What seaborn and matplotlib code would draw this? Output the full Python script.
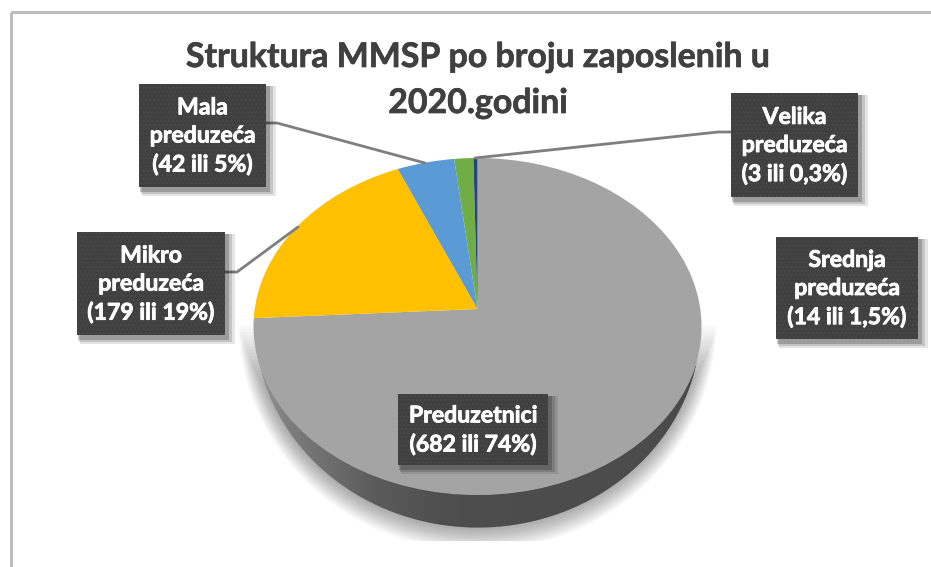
import numpy as np
import matplotlib
matplotlib.use("Agg")
import matplotlib.pyplot as plt
import matplotlib.patheffects as pe
from matplotlib.patches import Rectangle
from matplotlib.transforms import Transform
import seaborn as sns

categories = ["Preduzetnici", "Mikro preduzeća", "Mala preduzeća", "Srednja preduzeća", "Velika preduzeća"]
values = [682, 179, 42, 14, 3]
colors = ["#A4A4A4", "#FFC000", "#5B9BD5", "#70AD47", "#264478"]
title_lines = ["Struktura MMSP po broju zaposlenih u", "2020.godini"]
box_labels = ["Preduzetnici\n(682 ili 74%)", "Mikro\npreduzeća\n(179 ili 19%)", "Mala\npreduzeća\n(42 ili 5%)",
              "Srednja\npreduzeća\n(14 ili 1,5%)", "Velika\npreduzeća\n(3 ili 0,3%)"]
box_extents = [(398, 394, 548, 465), (77, 232, 225, 335), (139, 84, 266, 187), (776, 237, 918, 339), (731, 93, 858, 197)]
leaders = [None, [(225, 272), (237, 272), (298, 227)], [(266, 123), (277, 123), (425, 163)], None,
           [(731, 132), (718, 132), (475, 158)]]

sns.set_theme(style="white")
plt.rcParams["font.family"] = ["Lato", "DejaVu Sans"]

W, H = 931, 567
fig = plt.figure(figsize=(W / 100, H / 100), dpi=100, facecolor="white")
ax = fig.add_axes([0, 0, 1, 1])


class Perspective(Transform):
    """Unit-circle pie to screen pixels, tilted with the near edge enlarged."""
    input_dims = output_dims = 2
    is_separable = False
    has_inverse = False
    cx, cy, ax_x, ax_y, k = 477.5, 309.0, 222.8, 166.7, 0.104

    def transform_non_affine(self, v):
        v = np.asarray(v, float)
        w = 1 + self.k * v[:, 1]
        return np.column_stack((self.cx + self.ax_x * v[:, 0] / w, self.cy - self.ax_y * v[:, 1] / w))


palette = sns.color_palette(colors)
wedges, _ = ax.pie(values, colors=palette, startangle=90, counterclock=False, radius=1,
                   wedgeprops=dict(linewidth=0, zorder=4))
persp = Perspective() + ax.transData
for w in wedges:
    w.set_transform(persp)

ax.set_aspect("auto")
ax.set_xlim(0, W)
ax.set_ylim(H, 0)
ax.axis("off")

# outer chart frame: only the left and top edges show
ax.add_patch(Rectangle((10.5, 12), 1000, 1000, fill=False, ec="#BDBDBD", lw=2.2, zorder=1))

# soft shadow under the pie: stacked translucent ellipses, cut flat at the bottom
th = np.linspace(0, 2 * np.pi, 200)
n_layers = 18
for i in range(n_layers):
    f = 1 - i / n_layers
    sx = 477.5 + (223 + 16 * f) * np.cos(th)
    sy = 322 + (205 + 24 * f) * np.sin(th)
    ax.fill(sx, np.clip(sy, 325 + 3.5 * i, 541), color="#000000", alpha=0.02, lw=0, zorder=2)

# pie side wall: narrow vertical strips shaded from left to right
edges = np.arange(254.0, 702.0, 1.0)
shade = np.interp(edges, [254, 290, 370, 440, 702], [0.58, 0.47, 0.33, 0.27, 0.25])
for x0, g in zip(edges, shade):
    xs = np.array([x0, x0 + 1.3])
    lower = 322 + 205 * np.sqrt(np.clip(1 - ((xs - 477.5) / 223) ** 2, 0, 1))
    upper = 326.5 + 168.5 * np.sqrt(np.clip(1 - ((xs - 477.5) / 224) ** 2, 0, 1))
    ax.fill_between(xs, upper - 1, np.maximum(lower, upper - 1), color=(g, g, g), lw=0, zorder=3)

# leader lines
for pts in leaders:
    if pts:
        px, py = zip(*pts)
        ax.plot(px, py, color="#7F7F7F", lw=2, zorder=5, solid_joinstyle="round")

# label boxes
plt.rcParams["hatch.linewidth"] = 0.5
thick = [pe.withStroke(linewidth=0.6, foreground="white")]
for (x0, y0, x1, y1), txt in zip(box_extents, box_labels):
    for s, a in zip((7, 5, 3), (0.10, 0.14, 0.2)):
        ax.add_patch(Rectangle((x0 + 1 + (s - 3) * 0.5, y0 + 2), x1 - x0 + s, y1 - y0 + s, fc="black", ec="none", alpha=a, zorder=6))
    ax.add_patch(Rectangle((x0, y0), x1 - x0, y1 - y0, fc="#404040", ec="#4E4E4E", hatch="....", lw=0, zorder=7))
    ax.text((x0 + x1) / 2, (y0 + y1) / 2 + 1, txt, color="white", fontsize=16.6, fontweight="bold",
            ha="center", va="center", linespacing=1.42, zorder=8, path_effects=thick)

for line, yc in zip(title_lines, (57, 103)):
    ax.text(478, yc, line, color="#404040", fontsize=24.4, fontweight="bold", ha="center", va="center",
            zorder=8, path_effects=[pe.withStroke(linewidth=0.5, foreground="#404040")])

ax.set_xlim(0, W)
ax.set_ylim(H, 0)
fig.savefig("out.png", dpi=100)
